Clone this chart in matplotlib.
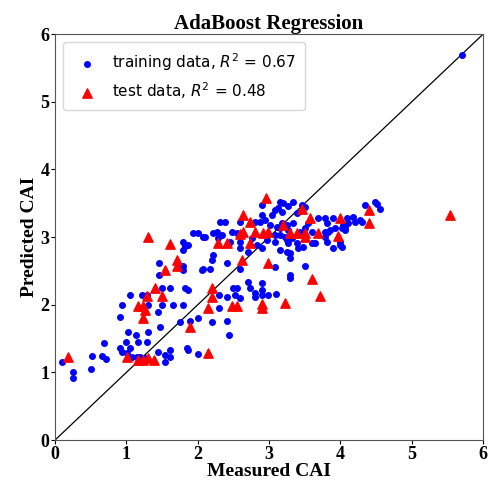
import numpy as np
import matplotlib.pyplot as plt

# training data (measured, predicted)
train_x = [0.10, 0.25, 0.25, 0.50, 0.52, 0.66, 0.72, 0.69, 0.91, 0.94, 1.01, 1.05, 1.08, 1.15, 1.19, 1.26,
           1.44, 1.61, 1.54, 1.61, 1.54, 1.85, 1.86, 2.00, 1.00, 1.16, 1.29, 1.02, 1.14, 1.30, 1.47, 0.91,
           1.75, 1.89, 2.00, 0.94, 1.30, 1.50, 1.65, 1.79, 1.05, 1.22, 1.29, 1.50, 1.61, 1.82, 1.86, 1.44,
           1.93, 2.00, 2.07, 1.79, 1.82, 1.86, 1.79, 1.46, 1.46, 1.79, 1.79, 2.06, 2.90, 3.20, 3.27, 3.13,
           3.08, 3.46, 3.50, 3.39, 2.90, 3.04, 2.94, 2.31, 2.38, 2.59, 2.80, 2.87, 3.01, 3.11, 3.18, 3.25,
           3.34, 2.22, 2.27, 2.34, 2.48, 2.55, 2.10, 3.08, 3.15, 3.22, 3.32, 3.25, 2.59, 2.45, 2.83, 2.90,
           2.59, 2.71, 3.15, 3.25, 2.22, 2.20, 2.41, 3.08, 3.29, 3.29, 2.07, 2.17, 2.59, 3.29, 3.29, 3.50,
           2.29, 2.76, 2.97, 2.71, 2.90, 2.50, 2.55, 2.52, 2.59, 2.73, 2.80, 2.80, 2.90, 2.90, 2.99, 3.10,
           2.30, 2.41, 2.30, 2.20, 2.41, 2.44, 3.15, 3.34, 3.18, 3.55, 3.50, 3.69, 3.79, 3.81, 3.90, 4.09,
           4.18, 4.21, 4.28, 3.15, 3.27, 3.43, 3.60, 3.79, 3.86, 3.93, 4.07, 3.08, 3.27, 3.39, 3.60, 3.65,
           3.81, 4.00, 3.41, 3.48, 3.90, 4.02, 4.49, 4.51, 4.56, 4.35, 4.11, 4.04, 4.02, 4.07, 4.30, 3.83,
           3.79, 4.00, 5.71]
train_y = [1.15, 1.00, 0.92, 1.05, 1.24, 1.24, 1.20, 1.43, 1.36, 1.30, 1.29, 1.36, 1.23, 1.23, 1.23, 1.21,
           1.30, 1.33, 1.26, 1.23, 1.15, 1.36, 1.33, 1.27, 1.45, 1.45, 1.45, 1.60, 1.55, 1.60, 1.67, 1.82,
           1.74, 1.76, 1.80, 2.00, 2.00, 2.00, 2.00, 2.00, 2.14, 2.14, 2.14, 2.25, 2.25, 2.25, 2.22, 1.89,
           3.06, 3.06, 3.00, 2.93, 2.87, 2.88, 2.81, 2.62, 2.44, 2.57, 2.51, 2.51, 3.47, 3.50, 3.46, 3.43,
           3.40, 3.47, 3.44, 3.35, 3.32, 3.32, 3.25, 3.22, 3.22, 3.22, 3.22, 3.22, 3.18, 3.15, 3.21, 3.18,
           3.21, 3.06, 3.07, 3.03, 3.07, 3.06, 3.00, 3.03, 3.03, 3.00, 2.99, 2.96, 2.93, 2.93, 2.88, 2.84,
           2.84, 2.78, 2.81, 2.78, 2.73, 2.66, 2.62, 2.56, 2.76, 2.69, 2.53, 2.53, 2.53, 2.44, 2.39, 2.57,
           2.99, 2.99, 2.96, 2.33, 2.32, 2.25, 2.25, 2.14, 2.10, 2.25, 2.17, 2.11, 2.22, 2.14, 2.14, 2.16,
           2.14, 2.11, 1.95, 1.74, 1.76, 1.55, 3.52, 3.52, 3.37, 3.21, 3.13, 3.28, 3.28, 3.21, 3.28, 3.28,
           3.30, 3.22, 3.25, 3.13, 3.10, 3.07, 3.07, 3.07, 3.10, 3.13, 3.13, 2.93, 2.91, 2.91, 2.91, 2.91,
           2.93, 2.93, 2.84, 2.85, 2.84, 2.85, 3.52, 3.49, 3.41, 3.47, 3.21, 3.18, 3.13, 3.10, 3.22, 3.07,
           3.00, 2.88, 5.69]

# test data (measured, predicted)
test_x = [0.18, 1.40, 1.29, 1.50, 1.16, 1.23, 1.26, 1.23, 1.89, 1.01, 1.16, 1.23, 1.30, 1.39, 1.30, 1.61,
          1.71, 1.71, 1.54, 2.96, 3.46, 2.64, 2.73, 3.57, 3.20, 2.64, 2.59, 2.80, 2.92, 2.99, 3.29, 3.39,
          3.50, 3.50, 3.69, 3.97, 2.29, 2.41, 2.73, 2.62, 2.99, 3.60, 2.20, 2.20, 3.72, 2.90, 2.90, 3.22,
          2.14, 2.48, 2.55, 2.14, 4.40, 4.40, 5.54, 4.00]
test_y = [1.23, 2.25, 2.13, 2.13, 1.98, 1.98, 1.92, 1.80, 1.67, 1.23, 1.18, 1.18, 1.21, 1.18, 3.00, 2.90,
          2.66, 2.57, 2.51, 3.58, 3.41, 3.32, 3.22, 3.28, 3.18, 3.07, 3.04, 3.07, 3.06, 3.07, 3.06, 3.06,
          3.06, 3.00, 3.06, 3.01, 2.91, 2.91, 2.91, 2.66, 2.62, 2.38, 2.25, 2.11, 2.13, 2.01, 1.95, 2.02,
          1.95, 1.98, 1.98, 1.29, 3.40, 3.21, 3.32, 3.28]

r2_train = 0.67
r2_test = 0.48
ticks = [0, 1, 2, 3, 4, 5, 6]

fig = plt.figure(figsize=(4.92, 4.87), dpi=100)
ax = fig.add_axes([0.112, 0.0965, 0.870, 0.8335])

ax.plot([0, 6], [0, 6], color='black', lw=0.9, zorder=1)
ax.scatter(train_x, train_y, s=16, color='blue', zorder=2,
           label='training data, $R^2$ = %.2f' % r2_train)
ax.scatter(test_x, test_y, s=45, color='red', marker='^', zorder=3,
           label='test data, $R^2$ = %.2f' % r2_test)

ax.set_xlim(0, 6)
ax.set_ylim(0, 6)
ax.set_xticks(ticks)
ax.set_yticks(ticks)
serif = 'Liberation Serif'
ax.set_xticklabels(ticks, fontfamily=serif, fontweight='bold', fontsize=13)
ax.set_yticklabels(ticks, fontfamily=serif, fontweight='bold', fontsize=13)
ax.tick_params(length=3, pad=1)
for s in ax.spines.values():
    s.set_color('#555555')

ax.set_xlabel('Measured CAI', fontfamily=serif, fontweight='bold', fontsize=14, labelpad=0)
ax.set_ylabel('Predicted CAI', fontfamily=serif, fontweight='bold', fontsize=14, labelpad=2)
ax.set_title('AdaBoost Regression', fontfamily=serif, fontweight='bold', fontsize=15, pad=4)

ax.legend(loc='upper left', fontsize=11, handletextpad=0.6, borderpad=0.6)

fig.savefig('out.png', dpi=100)
